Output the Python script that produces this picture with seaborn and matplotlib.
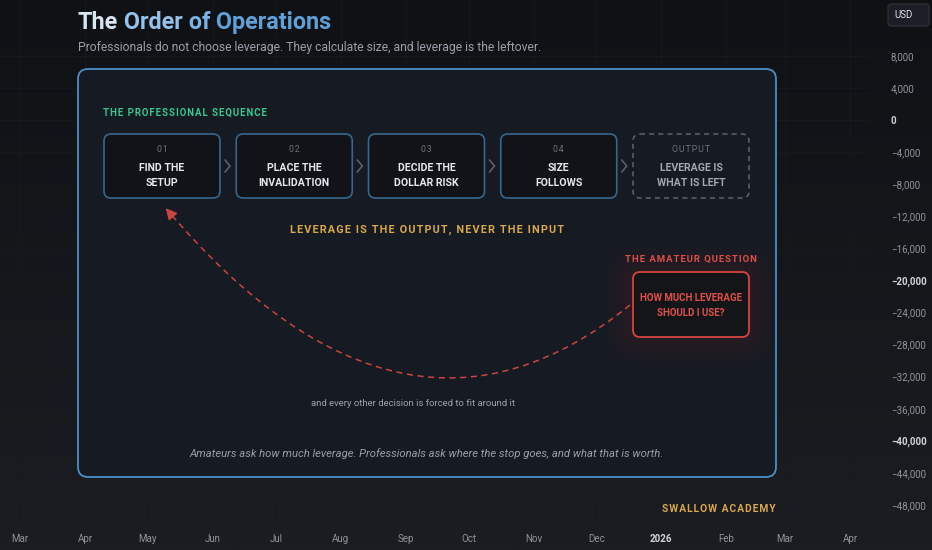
import numpy as np
import pandas as pd
import matplotlib
matplotlib.use("Agg")
import matplotlib.pyplot as plt
import seaborn as sns
from matplotlib.patches import FancyBboxPatch, PathPatch
from matplotlib.path import Path

# ── данные ──
MONTHS = pd.date_range("2025-03-01", "2026-04-01", freq="MS")
PRICE_TICKS = [8000, 4000, 0, -4000, -8000, -12000, -16000, -20000, -24000,
               -28000, -32000, -36000, -40000, -44000, -48000]
PRICE_BOLD = [0, -20000, -40000]

STEP_NUMS = ["01", "02", "03", "04", "OUTPUT"]
STEP_TITLES = [("FIND THE", "SETUP"),
               ("PLACE THE", "INVALIDATION"),
               ("DECIDE THE", "DOLLAR RISK"),
               ("SIZE", "FOLLOWS"),
               ("LEVERAGE IS", "WHAT IS LEFT")]

TITLE_WORDS = ["The", " Order", " of", " Operations"]
TITLE_COLORS = ["#d8e5f2", "#93c2eb", "#7ab3e4", "#60a0d9"]
SUBTITLE = "Professionals do not choose leverage. They calculate size, and leverage is the leftover."
SECTION = "THE PROFESSIONAL SEQUENCE"
MOTTO = "LEVERAGE IS THE OUTPUT, NEVER THE INPUT"
AMATEUR_LABEL = "THE AMATEUR QUESTION"
AMATEUR_Q = ("HOW MUCH LEVERAGE", "SHOULD I USE?")
ARC_NOTE = "and every other decision is forced to fit around it"
FOOTNOTE = "Amateurs ask how much leverage. Professionals ask where the stop goes, and what that is worth."
BRAND = "SWALLOW ACADEMY"

# ── цвета ──
BG_TOP, BG_BOT = "#0f1115", "#1b1d22"
PANEL_FACE, PANEL_EDGE = "#161a22", "#4b8fc7"
BOX_FACE, BOX_EDGE = "#111318", "#37678d"
GREEN, GOLD, RED = "#35c98d", "#d9a84c", "#e0504b"
GREY, LIGHT = "#8f949d", "#e4e7eb"


def spaced(s, sp="\u200a"):
    return sp.join(s)


sns.set_theme(style="dark")
plt.rcParams["font.family"] = ["Roboto", "DejaVu Sans"]

W, H = 932, 550
fig = plt.figure(figsize=(W / 100, H / 100), dpi=100)

# фон с градиентом
bg = fig.add_axes([0, 0, 1, 1], zorder=-10)
grad = np.linspace(0, 1, 256).reshape(-1, 1)
cmap = matplotlib.colors.LinearSegmentedColormap.from_list("bg", [BG_TOP, BG_BOT])
bg.imshow(grad, aspect="auto", cmap=cmap, extent=[0, 1, 0, 1], origin="upper")
bg.axis("off")

# ── ось графика (время / цена) ──
px_per_day = 830 / (MONTHS[-1] - MONTHS[0]).days
pad_days = pd.Timedelta(days=20 / px_per_day)
price_per_px = 4000 / 32.07
y_top = 8000 + 56 * price_per_px
y_bot = 8000 - (525 - 56) * price_per_px

ax = fig.add_axes([0, 25 / H, 870 / W, 525 / H])
ax.set_facecolor("none")
ax.set_xlim(MONTHS[0] - pad_days, MONTHS[-1] + pad_days)
ax.set_ylim(y_bot, y_top)
ax.set_xticks(MONTHS)
labels = [str(d.year) if d.month == 1 else d.strftime("%b") for d in MONTHS]
ax.set_xticklabels(labels)
ax.yaxis.tick_right()
ax.set_yticks(PRICE_TICKS)
ax.set_yticklabels([f"{v:,}".replace("-", "\u2212") for v in PRICE_TICKS])
ax.tick_params(axis="x", length=0, pad=6.5, labelsize=7, labelcolor=GREY)
ax.tick_params(axis="y", length=0, pad=15, labelsize=7, labelcolor=GREY)
for lab, d in zip(ax.get_xticklabels(), MONTHS):
    if d.month == 1:
        lab.set_color("#d1d4dc")
        lab.set_fontweight("bold")
for lab, v in zip(ax.get_yticklabels(), PRICE_TICKS):
    if v in PRICE_BOLD:
        lab.set_color("#d1d4dc")
        lab.set_fontweight("bold")
ax.grid(True, color="#17191f", lw=0.6)
for s in ax.spines.values():
    s.set_visible(False)

# ── слой диаграммы в пикселях ──
ov = fig.add_axes([0, 0, 1, 1])
ov.set_xlim(0, W)
ov.set_ylim(H, 0)
ov.axis("off")

# заголовок
prev = ov.text(78, 29, TITLE_WORDS[0], color=TITLE_COLORS[0], fontsize=16.8,
               fontweight="bold", ha="left", va="baseline")
for word, col in zip(TITLE_WORDS[1:], TITLE_COLORS[1:]):
    prev = ov.annotate(word, xy=(1, 0), xycoords=prev, color=col, fontsize=16.8,
                       fontweight="bold", ha="left", va="bottom")
ov.text(78, 47, SUBTITLE, color="#9aa0a9", fontsize=8.75, ha="left", va="center")

# панель
ov.add_patch(FancyBboxPatch((78, 69), 698, 408, boxstyle="round,pad=0,rounding_size=10",
                            fc=PANEL_FACE, ec=PANEL_EDGE, lw=1.3))
ov.text(103, 113, spaced(SECTION), color=GREEN, fontsize=6.95, fontweight="bold",
        ha="left", va="center")

# шаги
box_w, box_h, step = 116, 64, 132.25
for i, (num, (l1, l2)) in enumerate(zip(STEP_NUMS, STEP_TITLES)):
    x0 = 104 + i * step
    last = i == len(STEP_NUMS) - 1
    ov.add_patch(FancyBboxPatch((x0, 134), box_w, box_h,
                                boxstyle="round,pad=0,rounding_size=7",
                                fc=BOX_FACE if not last else "none",
                                ec="#5a5e66" if last else BOX_EDGE, lw=1.2,
                                ls=(0, (3, 2.5)) if last else "-"))
    cx = x0 + box_w / 2
    ov.text(cx, 150, spaced(num), color="#6c717b", fontsize=6.3, ha="center", va="center")
    tc = "#a3a7ae" if last else LIGHT
    ov.text(cx, 168, l1, color=tc, fontsize=7.6, fontweight="bold", ha="center", va="center")
    ov.text(cx, 183, l2, color=tc, fontsize=7.6, fontweight="bold", ha="center", va="center")
    if not last:
        chx = x0 + box_w + 8
        ov.plot([chx - 3, chx + 2, chx - 3], [160, 166, 172], color="#5b606b", lw=1.2)

ov.text(427, 230, spaced(MOTTO), color=GOLD, fontsize=7.85, fontweight="bold",
        ha="center", va="center")

# вопрос любителя со свечением
rx, ry, rw, rh = 633, 272, 116, 65
for k in range(16, 0, -1):
    g = k * 1.8
    ov.add_patch(FancyBboxPatch((rx - g, ry - g), rw + 2 * g, rh + 2 * g,
                                boxstyle=f"round,pad=0,rounding_size={7 + g}",
                                fc=RED, ec="none", alpha=0.009))
ov.add_patch(FancyBboxPatch((rx, ry), rw, rh, boxstyle="round,pad=0,rounding_size=7",
                            fc="#141519", ec="#d6443f", lw=1.3))
ov.text(rx + rw / 2, 259, spaced(AMATEUR_LABEL), color=RED, fontsize=6.8,
        fontweight="bold", ha="center", va="center")
ov.text(rx + rw / 2, 298, AMATEUR_Q[0], color=RED, fontsize=7.05, fontweight="bold",
        ha="center", va="center")
ov.text(rx + rw / 2, 313, AMATEUR_Q[1], color=RED, fontsize=7.05, fontweight="bold",
        ha="center", va="center")

# пунктирная дуга
p0, p1, p2 = np.array([630, 305]), np.array([405, 488]), np.array([169, 212])
ov.add_patch(PathPatch(Path([p0, p1, p2], [Path.MOVETO, Path.CURVE3, Path.CURVE3]),
                       fc="none", ec="#c8463f", lw=1.1, ls=(0, (4, 3))))
d = (p2 - p1) / np.linalg.norm(p2 - p1)
ov.annotate("", xy=p2 + d * 5, xytext=p2 - d * 2,
            arrowprops=dict(arrowstyle="-|>,head_length=0.55,head_width=0.28",
                            color="#c8463f", lw=1.1, shrinkA=0, shrinkB=0))

ov.text(413, 403, ARC_NOTE, color="#9ea2aa", fontsize=6.8, ha="center", va="center")
ov.text(427, 454, FOOTNOTE, color="#9a9ea6", fontsize=8.1, style="italic",
        ha="center", va="center")

ov.text(776, 509, spaced(BRAND), color=GOLD, fontsize=7.4, fontweight="bold",
        ha="right", va="center")

# плашка валюты
ov.add_patch(FancyBboxPatch((888, 4), 41, 22, boxstyle="round,pad=0,rounding_size=3",
                            fc="#1b1e24", ec="#2e323b", lw=0.8))
ov.text(894, 15, "USD", color="#e0e3e8", fontsize=7, ha="left", va="center")

fig.savefig("out.png", dpi=100, facecolor=BG_BOT)
